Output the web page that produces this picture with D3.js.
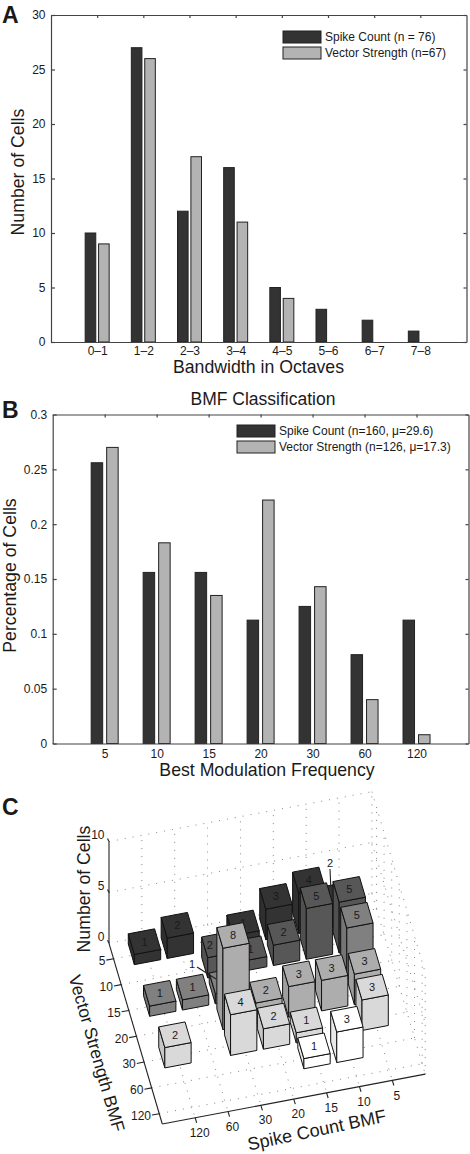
<!DOCTYPE html>
<html><head><meta charset="utf-8">
<script src="https://cdn.jsdelivr.net/npm/d3@7"></script>
<style>
html,body{margin:0;padding:0;background:#fff}
svg{display:block;opacity:0.999}
text{font-family:"Liberation Sans",Arial,sans-serif;fill:#1a1a1a}
</style></head><body>
<svg id="c" width="470" height="1154"></svg>
<script>
// Panel A
const bandwidthCategories = ["0–1","1–2","2–3","3–4","4–5","5–6","6–7","7–8"];
const bandwidthSpike = [10,27,12,16,5,3,2,1];
const bandwidthVector = [9,26,17,11,4,0,0,0];
const bandwidthTicks = [0,5,10,15,20,25,30];
const legendA = ["Spike Count (n = 76)","Vector Strength (n=67)"];
// Panel B
const bmfCategories = ["5","10","15","20","30","60","120"];
const bmfSpike = [0.256,0.156,0.156,0.1125,0.125,0.081,0.1125];
const bmfVector = [0.27,0.183,0.135,0.222,0.143,0.04,0.008];
const bmfTicks = [0,0.05,0.1,0.15,0.2,0.25,0.3];
const legendB = ["Spike Count (n=160, μ=29.6)","Vector Strength (n=126, μ=17.3)"];
// Panel C
const spikeLevels = ["120","60","30","20","15","10","5"];
const vectorLevels = ["5","10","15","20","30","60","120"];
const countTicks = [0,5,10];
const barSpike  = ["120","60","20","15","10","5", "30","20","15","10","5", "120","60","30","5", "30","20","15","10","5", "120","30","20","15","5", "15","10"];
const barVector = ["5","5","5","5","5","5", "10","10","10","10","10", "15","15","15","15", "20","20","20","20","20", "30","30","30","30","30", "60","60"];
const barCount  = [1,2,1,3,4,2, 2,1,2,5,5, 1,1,1,5, 8,2,3,3,3, 2,4,2,1,3, 1,3];
const rowFill = {"5":"#333333","10":"#575757","15":"#808080","20":"#adadad","30":"#d9d9d9","60":"#ffffff"};

const svg = d3.select("#c");
const DARK="#333333", LIGHT="#b3b3b3", INK="#222";

function panel2D(o){
  const g = svg.append("g");
  const x = d3.scaleLinear().domain([0,o.cats.length+1]).range([o.l,o.r]);
  const y = d3.scaleLinear().domain(o.ydom).range([o.b,o.t]);
  const xa = d3.axisBottom(x).tickValues(o.cats.map((d,i)=>i+1)).tickFormat((d,i)=>o.cats[i]).tickSize(0).tickPadding(o.xp);
  const ya = d3.axisLeft(y).tickValues(o.yt).tickFormat(o.fmt).tickSizeInner(-4).tickSizeOuter(0).tickPadding(5.5);
  const s = o.cats.map((c,i)=>({i,a:o.a[i],b:o.b2[i]}));
  g.selectAll(".a").data(s).join("rect").attr("x",d=>x(d.i+1)-o.gap/2-o.w).attr("width",o.w)
    .attr("y",d=>y(d.a)).attr("height",d=>y(0)-y(d.a)).attr("fill",DARK).attr("stroke",INK).attr("stroke-width",1);
  g.selectAll(".b").data(s).join("rect").attr("x",d=>x(d.i+1)+o.gap/2).attr("width",o.w)
    .attr("y",d=>y(d.b)).attr("height",d=>y(0)-y(d.b)).attr("fill",LIGHT).attr("stroke",INK).attr("stroke-width",1);
  const ax=g.append("g").attr("transform",`translate(0,${o.b})`).call(xa);
  const ay=g.append("g").attr("transform",`translate(${o.l},0)`).call(ya);
  const ax2=g.append("g").attr("transform",`translate(0,${o.t})`).call(d3.axisTop(x).tickValues(o.cats.map((d,i)=>i+1)).tickFormat("").tickSizeInner(-3).tickSizeOuter(0));
  const ay2=g.append("g").attr("transform",`translate(${o.r},0)`).call(d3.axisRight(y).tickValues(o.yt).tickFormat("").tickSizeInner(-3).tickSizeOuter(0));
  [ax,ay,ax2,ay2].forEach(a=>{a.selectAll("path,line").attr("stroke","#444").attr("stroke-width",1.2);
    a.selectAll("text").attr("font-size",o.tf).attr("fill","#222").attr("font-family",'"Liberation Sans",Arial,sans-serif');});
  g.append("text").attr("x",o.xl[0]).attr("y",o.xl[1]).attr("text-anchor","middle").attr("font-size",o.lf).text(o.xlabel);
  g.append("text").attr("transform",`translate(${o.yl[0]},${o.yl[1]}) rotate(-90)`).attr("text-anchor","middle").attr("font-size",o.lf).text(o.ylabel);
  o.legend.forEach((t,i)=>{
    const ly=o.lg[1]+i*o.lg[4];
    g.append("rect").attr("x",o.lg[0]).attr("y",ly).attr("width",o.lg[2]).attr("height",o.lg[3]).attr("fill",i?LIGHT:DARK).attr("stroke",INK);
    g.append("text").attr("x",o.lg[0]+o.lg[2]+4).attr("y",ly+o.lg[3]/2+4).attr("font-size",o.lgf).text(t);
  });
}
panel2D({cats:bandwidthCategories,a:bandwidthSpike,b2:bandwidthVector,ydom:[0,30],yt:bandwidthTicks,fmt:d3.format("d"),
  l:51,r:466.5,t:15,b:342,w:10.6,gap:2.8,tf:12,xp:4,lf:17.7,xlabel:"Bandwidth in Octaves",ylabel:"Number of Cells",xl:[258.5,373],yl:[24,172],
  legend:legendA,lg:[283,31,38,12,16],lgf:12});
panel2D({cats:bmfCategories,a:bmfSpike,b2:bmfVector,ydom:[0,0.3],yt:bmfTicks,fmt:d=>d===0?"0":String(d),
  l:52.7,r:468.5,t:414.5,b:743.5,w:11.5,gap:4,tf:12,xp:6,lf:17.7,xlabel:"Best Modulation Frequency",ylabel:"Percentage of Cells",xl:[267,776],yl:[16,575.5],
  legend:legendB,lg:[237,425,38,12,16],lgf:12});
svg.append("text").attr("x",263).attr("y",405).attr("text-anchor","middle").attr("font-size",17.5).text("BMF Classification");
[["A",2,23],["B",2,418],["C",2,815]].forEach(d=>svg.append("text").attr("x",d[1]).attr("y",d[2]).attr("font-size",23).attr("font-weight","bold").attr("fill","#000").text(d[0]));

// Panel C: affine projection built from scales
const uPos = d3.scalePoint().domain(spikeLevels).range([1,7]);
const vPos = d3.scalePoint().domain(vectorLevels).range([0.6,6.6]);
const uX=d3.scaleLinear().domain([0,8]).range([0,262.9]), uY=d3.scaleLinear().domain([0,8]).range([0,-49.9]);
const vX=d3.scaleLinear().domain([0,7]).range([0,53.3]), vY=d3.scaleLinear().domain([0,7]).range([0,180.7]);
const zY=d3.scaleLinear().domain([0,10]).range([0,-101.7]);
const P=(u,v,z=0)=>[109+uX(u)+vX(v), 943.3+uY(u)+vY(v)+zY(z)];
const line=pts=>"M"+pts.map(p=>p.join(",")).join("L");
const g3=svg.append("g");
const dots=(a,b)=>g3.append("path").attr("d",line([a,b])).attr("fill","none").attr("stroke","#777").attr("stroke-width",0.9).attr("stroke-dasharray","1 7");
spikeLevels.forEach(s=>{const u=uPos(s);dots(P(u,0),P(u,7));dots(P(u,0,0),P(u,0,10));});
vectorLevels.forEach(s=>{const v=vPos(s);dots(P(0,v),P(8,v));dots(P(8,v,0),P(8,v,10));});
countTicks.forEach(z=>{dots(P(0,0,z),P(8,0,z));dots(P(8,0,z),P(8,7,z));});
dots(P(8,0,0),P(8,0,10));dots(P(8,7,0),P(8,7,10));
const axisLine=(a,b,w=1.1)=>g3.append("path").attr("d",line([a,b])).attr("fill","none").attr("stroke","#222").attr("stroke-width",w);
axisLine(P(0,0,0),P(0,7,0));axisLine(P(0,7,0),P(8,7,0));axisLine(P(0,0,0),P(0,0,10));
spikeLevels.forEach(s=>{const u=uPos(s);axisLine(P(u,7),P(u,7.2));
  const p=P(u,7.2);g3.append("text").attr("x",p[0]+3).attr("y",p[1]+14).attr("text-anchor","middle").attr("font-size",12).text(s);});
vectorLevels.forEach(s=>{const v=vPos(s);axisLine(P(0,v),P(-0.22,v));
  const p=P(-0.22,v);g3.append("text").attr("x",p[0]-1).attr("y",p[1]+5).attr("text-anchor","end").attr("font-size",12).text(s);});
countTicks.forEach(z=>{const p=P(0,0,z);axisLine(p,[p[0]-1.5,p[1]-3]);
  g3.append("text").attr("x",p[0]-4.5).attr("y",p[1]-2.5).attr("text-anchor","end").attr("font-size",12).text(z);});
g3.append("text").attr("transform","translate(318,1136) rotate(-11.8)").attr("text-anchor","middle").attr("font-size",18).text("Spike Count BMF");
g3.append("text").attr("transform","translate(91,1055) rotate(74)").attr("text-anchor","middle").attr("font-size",17.5).text("Vector Strength BMF");
g3.append("text").attr("transform","translate(90,889) rotate(-90)").attr("text-anchor","middle").attr("font-size",17.7).text("Number of Cells");

const all=barCount.map((c,i)=>({s:barSpike[i],v:barVector[i],c}));
all.sort((a,b)=>d3.ascending(vPos(a.v),vPos(b.v))||d3.descending(uPos(a.s),uPos(b.s)));
const isLeader=b=>(b.s==="5"&&b.v==="5")||(b.s==="30"&&b.v==="15");
const hw=0.4;
all.forEach(b=>{
  const u=uPos(b.s)-0.05, v=vPos(b.v)-0.04, h=b.c, fill=rowFill[b.v];
  const left=d3.color(fill).darker(0.25).formatHex();
  const face=(pts,f)=>g3.append("path").attr("d",line(pts)+"Z").attr("fill",f).attr("stroke","#111").attr("stroke-width",1).attr("stroke-linejoin","round");
  face([P(u-hw,v-hw,0),P(u-hw,v+hw,0),P(u-hw,v+hw,h),P(u-hw,v-hw,h)],left);
  face([P(u-hw,v+hw,0),P(u+hw,v+hw,0),P(u+hw,v+hw,h),P(u-hw,v+hw,h)],fill);
  face([P(u-hw,v-hw,h),P(u+hw,v-hw,h),P(u+hw,v+hw,h),P(u-hw,v+hw,h)],fill);
  if(!isLeader(b)){
    const t=P(u,v,h);
    const dx=(b.s==="30"&&b.v==="10")?-8:0;
    g3.append("text").attr("x",t[0]+dx).attr("y",t[1]+4).attr("text-anchor","middle").attr("font-size",11).attr("fill","#111").text(b.c);
  }
});
g3.append("text").attr("x",330).attr("y",867).attr("text-anchor","middle").attr("font-size",11).attr("fill","#111").text(2);
g3.append("text").attr("x",192).attr("y",968).attr("text-anchor","middle").attr("font-size",11).attr("fill","#111").text(1);
axisLine([330,869],[330.8,887]);
axisLine([197,967],[216,979]);
</script>
</body></html>
